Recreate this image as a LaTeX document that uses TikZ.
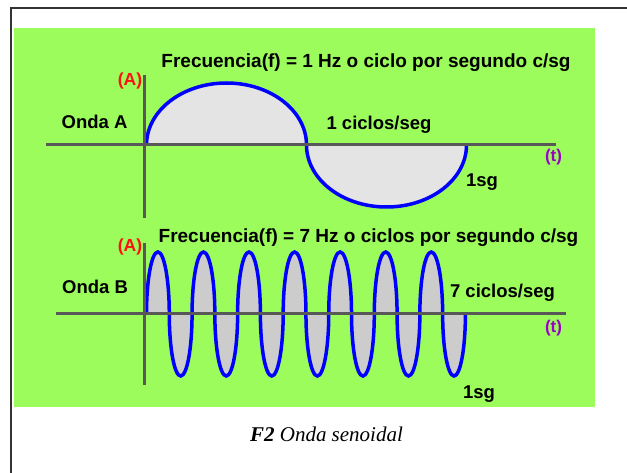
\documentclass[tikz,border=0pt]{standalone}
\usepackage{fontspec}
\setmainfont{Liberation Sans}
\newfontfamily\capserif{Liberation Serif}
\usepackage{xcolor}
\definecolor{cGreen}{HTML}{9CFC5C}
\definecolor{cWave}{HTML}{0000FF}
\definecolor{cFillA}{HTML}{E4E4E4}
\definecolor{cFillB}{HTML}{CCCCCC}
\definecolor{cAxis}{HTML}{585858}
\definecolor{cAmp}{HTML}{FF1010}
\definecolor{cTime}{HTML}{9A00C8}
\definecolor{cFrame}{HTML}{333333}
\usepackage{tikz}
\tikzset{
  lbl/.style={inner sep=0pt,anchor=base,font=\bfseries\fontsize{18.5pt}{22pt}\selectfont},
  lbl-title/.style={lbl,font=\bfseries\fontsize{19pt}{22pt}\selectfont},
  lbl-amp/.style={lbl,text=cAmp,font=\bfseries\fontsize{17.5pt}{20pt}\selectfont},
  lbl-time/.style={lbl,text=cTime,font=\bfseries\fontsize{17pt}{20pt}\selectfont},
  cap-text/.style={inner sep=0pt,anchor=base,font=\capserif\itshape\fontsize{21pt}{24pt}\selectfont},
  % media onda = media elipse: A con 1 ciclo, B con 7 ciclos en el mismo segundo
  lobe-a/.style={x radius=80pt,y radius=62pt},
  lobe-b/.style={x radius=11.39pt,y radius=62pt},
  wave-line/.style={draw=cWave,line width=3.5pt},
  axis-line/.style={draw=cAxis,line width=3pt},
  frame-line/.style={draw=cFrame,line width=1.5pt},
}
\begin{document}
\begin{tikzpicture}[x=1pt,y=-1pt]
  \useasboundingbox (0,0) rectangle (627,473);
  \fill[white] (0,0) rectangle (627,473);
  \draw[frame-line] (11,473) -- (11,8) -- (627,8);
  \fill[cGreen] (14,28) rectangle (595,407);

  % Onda A
  \coordinate (waA-s) at (146.5,145);
  \fill[cFillA] (waA-s) arc[lobe-a,start angle=180,end angle=0]
    arc[lobe-a,start angle=180,end angle=360] -- cycle;
  \draw[wave-line] (waA-s) arc[lobe-a,start angle=180,end angle=0]
    arc[lobe-a,start angle=180,end angle=360];
  \coordinate (axA-w) at (46,145);
  \coordinate (axA-e) at (556,145);
  \coordinate (axA-n) at (144,75);
  \coordinate (axA-s) at (144,218);
  \draw[axis-line] (axA-w) -- (axA-e);
  \draw[axis-line] (axA-n) -- (axA-s);

  % Onda B
  \coordinate (waB-s) at (146.5,314);
  \fill[cFillB] (waB-s) foreach \k in {1,...,7}{
    arc[lobe-b,start angle=180,end angle=0]
    arc[lobe-b,start angle=180,end angle=360]} -- cycle;
  \draw[wave-line] (waB-s) foreach \k in {1,...,7}{
    arc[lobe-b,start angle=180,end angle=0]
    arc[lobe-b,start angle=180,end angle=360]};
  \coordinate (axB-w) at (56,314);
  \coordinate (axB-e) at (566,314);
  \coordinate (axB-n) at (144,243);
  \coordinate (axB-s) at (144,385);
  \draw[axis-line] (axB-w) -- (axB-e);
  \draw[axis-line] (axB-n) -- (axB-s);

  \node[lbl-title] (titA) at (366,68) {Frecuencia(f) = 1 Hz o ciclo por segundo c/sg};
  \node[lbl-amp] (ampA) at (130,86) {(A)};
  \node[lbl] (ondaA) at (94.5,129) {Onda A};
  \node[lbl] (cycA) at (379,130) {1 ciclos/seg};
  \node[lbl-time] (tA) at (553.5,162) {(t)};
  \node[lbl] (sgA) at (482,187) {1sg};

  \node[lbl-title] (titB) at (368.5,243) {Frecuencia(f) = 7 Hz o ciclos por segundo c/sg};
  \node[lbl-amp] (ampB) at (130,252) {(A)};
  \node[lbl] (ondaB) at (95,294) {Onda B};
  \node[lbl] (cycB) at (502.5,298) {7 ciclos/seg};
  \node[lbl-time] (tB) at (553.5,333) {(t)};
  \node[lbl] (sgB) at (479,398) {1sg};

  \node[cap-text] (cap) at (326.5,441) {\textbf{F2} Onda senoidal};
\end{tikzpicture}
\end{document}
